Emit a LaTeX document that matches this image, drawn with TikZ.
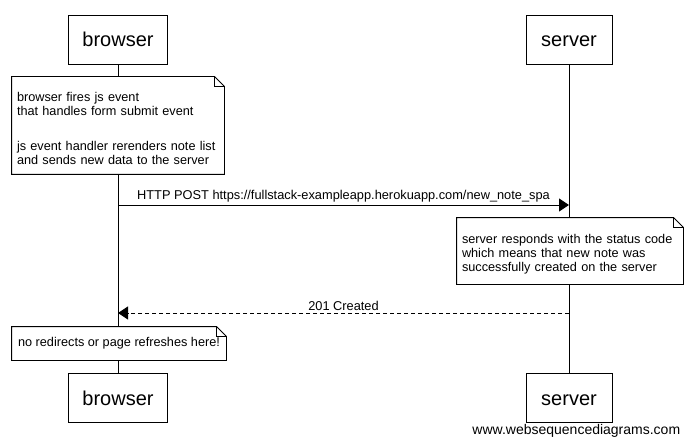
\documentclass[tikz,border=0pt]{standalone}
\usepackage{fontspec}
\setmainfont{Liberation Sans}
\usetikzlibrary{arrows.meta}

% folded corner outline round a note
\newcommand{\dogear}[1]{%
  \draw (#1.south west) -- (#1.north west) -- ([xshift=-10pt]#1.north east)
    -- ([yshift=-10pt]#1.north east) -- (#1.south east) -- cycle;
  \draw[line width=0.5pt] ([xshift=-10pt]#1.north east) |- ([yshift=-10pt]#1.north east);}

\begin{document}
\begin{tikzpicture}[x=1pt, y=-1pt, line width=0.9pt,
    actor/.style={draw, fill=white, minimum height=49pt, inner sep=0pt,
      text height=19pt, text depth=4pt, font=\fontsize{20}{24}\selectfont},
    note/.style={fill=white, inner xsep=5pt, inner ysep=0pt, align=left,
      font=\fontsize{12.7}{14}\selectfont},
    msg/.style={-{Triangle[length=10pt,width=13pt]}},
    reply/.style={msg, dash pattern=on 4pt off 3pt},
    lbl/.style={font=\fontsize{12.8}{15}\selectfont, inner sep=2pt}]
    \useasboundingbox (0,0) rectangle (692,446);

    % participants
    \node[actor, minimum width=99pt] (bTop) at (118,39.5) {browser};
    \node[actor, minimum width=86pt] (sTop) at (569,39.5) {server};
    \node[actor, minimum width=99pt] (bBot) at (118,397.5) {browser};
    \node[actor, minimum width=86pt] (sBot) at (569,397.5) {server};

    % lifelines
    \draw (bTop) -- (bBot);
    \draw (sTop) -- (sBot);

    % notes
    \node[note, minimum width=212pt, minimum height=97pt, text width=202pt]
      (jsNote) at (118,125.5)
      {\rule{0pt}{15pt}browser fires js event\\that handles form submit event\\[21pt]js event handler rerenders note list\\and sends new data to the server};
    \node[note, minimum width=226pt, minimum height=66pt, text width=216pt]
      (srvNote) at (570,251)
      {\rule{0pt}{15pt}server responds with the status code\\which means that new note was\\successfully created on the server};
    \node[note, minimum width=214pt, minimum height=33pt]
      (noNote) at (119,343.5) {no redirects or page refreshes here!};
    \foreach \n in {jsNote,srvNote,noNote}
      \dogear{\n};

    % messages
    \draw[msg] (bTop |- 0,205) -- node[lbl, above]
      {HTTP POST https://fullstack-exampleapp.herokuapp.com/new\_note\_spa}
      (sTop |- 0,205);
    \draw[reply] (sTop |- 0,313) -- node[lbl, above] {201 Created} (bTop |- 0,313);

    \node[font=\fontsize{14}{16}\selectfont, anchor=east] (wsd) at (684,431)
      {www.websequencediagrams.com};
\end{tikzpicture}
\end{document}
